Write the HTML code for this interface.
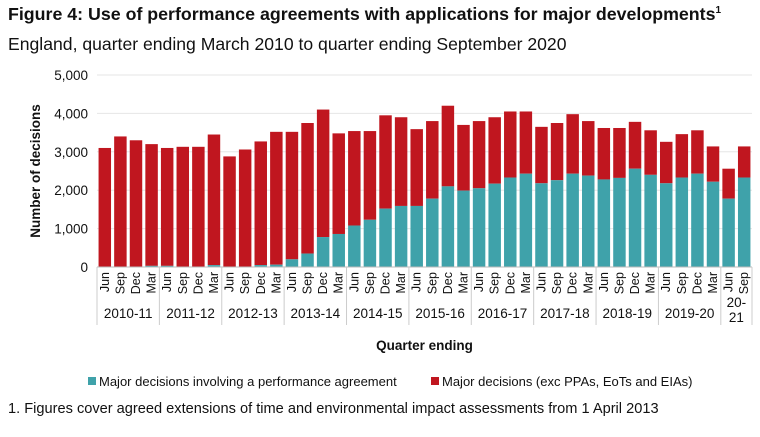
<!DOCTYPE html>
<html><head><meta charset="utf-8"><style>
body{margin:0;background:#fff;font-family:"Liberation Sans",Arial,sans-serif;}
#wrap{position:relative;width:760px;height:437px;overflow:hidden;}
.t{position:absolute;white-space:nowrap;color:#111;}
</style></head><body>
<div id="wrap">
<div class="t" style="left:8px;top:4px;font-size:17.8px;font-weight:bold;">Figure 4: Use of performance agreements with applications for major developments<sup style="font-size:10px">1</sup></div>
<div class="t" style="left:8px;top:34px;font-size:17.6px;">England, quarter ending March 2010 to quarter ending September 2020</div>
<svg id="svg" width="760" height="437" style="position:absolute;left:0;top:0"></svg>
<div class="t" style="left:8px;top:401px;font-size:14.6px;">1. Figures cover agreed extensions of time and environmental impact assessments from 1 April 2013</div>
</div>
<script>
const quarters=["Jun","Sep","Dec","Mar"];
const years=["2010-11","2011-12","2012-13","2013-14","2014-15","2015-16","2016-17","2017-18","2018-19","2019-20","20-\n21"];
const totals=[3100,3400,3300,3200,3100,3130,3130,3450,2880,3060,3270,3520,3520,3750,4100,3480,3540,3540,3950,3900,3590,3800,4200,3700,3800,3900,4050,4050,3650,3750,3980,3800,3620,3620,3780,3560,3260,3460,3560,3140,2560,3140];
const paValues=[0,0,0,30,30,0,0,50,0,0,50,60,200,350,780,860,1080,1230,1520,1590,1590,1780,2100,1990,2050,2170,2330,2430,2180,2260,2430,2380,2280,2320,2560,2400,2180,2330,2430,2220,1780,2330];
const yTicks=[0,1000,2000,3000,4000,5000];
const NS="http://www.w3.org/2000/svg";
const svg=document.getElementById('svg');
const x0=97,x1=752,y0=267,yTop=75,yMax=5000;
const n=totals.length, pitch=(x1-x0)/n;
const Y=v=>y0-(v/yMax)*(y0-yTop);
const X=i=>x0+i*pitch;
function mk(tag,a){const e=document.createElementNS(NS,tag);for(const k in a)e.setAttribute(k,a[k]);svg.appendChild(e);return e;}
yTicks.forEach(v=>{
 if(v>0){const g=mk('line',{x1:x0,x2:x1,y1:Y(v),y2:Y(v),stroke:'#e6e6e6','stroke-width':1});
 
 }
 const t=mk('text',{x:x0-9,y:Y(v)+5,'text-anchor':'end','font-size':13.5,fill:'#111'});
 t.textContent=v.toLocaleString('en-GB');
 
 
});
const yt=mk('text',{x:0,y:0,transform:`translate(40,${(y0+yTop)/2}) rotate(-90)`,'text-anchor':'middle','font-size':13.5,'font-weight':'bold',fill:'#111'});
yt.textContent='Number of decisions';


for(let i=0;i<n;i++){
 const bw=pitch*0.8, bx=X(i)+pitch*0.1;
 const pa=paValues[i], tot=totals[i];
 const r=mk('rect',{x:bx,y:Y(tot),width:bw,height:Y(pa)-Y(tot),fill:'#c0161f'});
 
 
 if(pa>0){const b=mk('rect',{x:bx,y:Y(pa),width:bw,height:y0-Y(pa),fill:'#3fa2aa'});
 
 }
 const cx=X(i)+pitch/2+4;
 const t=mk('text',{x:0,y:0,transform:`translate(${cx},272) rotate(-90)`,'text-anchor':'end','font-size':12.5,fill:'#111'});
 t.textContent=quarters[i%4];
 
 
}
const ax=mk('line',{x1:x0,x2:x1,y1:y0,y2:y0,stroke:'#bbb'});


for(let k=0;k<=years.length;k++){
 const xx=X(Math.min(k*4,n));
 const l=mk('line',{x1:xx,x2:xx,y1:y0,y2:325,stroke:'#ccc'});
 
 
}
years.forEach((yr,k)=>{
 const s=k*4,e=Math.min(s+4,n);
 const cx=(X(s)+X(e))/2;
 const parts=yr.split('\n');
 parts.forEach((p,j)=>{
  const t=mk('text',{x:cx,y:parts.length>1?307+j*15:318,'text-anchor':'middle','font-size':13.5,fill:'#111'});
  t.textContent=p;
  
  
 });
});
const xt=mk('text',{x:(x0+x1)/2,y:350,'text-anchor':'middle','font-size':13.5,'font-weight':'bold',fill:'#111'});
xt.textContent='Quarter ending';


const legend=[["#3fa2aa","Major decisions involving a performance agreement",88],["#c0161f","Major decisions (exc PPAs, EoTs and EIAs)",431]];
legend.forEach(([c,l,lx])=>{
 const r=mk('rect',{x:lx,y:377,width:8,height:8,fill:c});
 
 
 const t=mk('text',{x:lx+11,y:386,'font-size':13,fill:'#111'});
 t.textContent=l;
 
 
});
</script>
</body></html>
